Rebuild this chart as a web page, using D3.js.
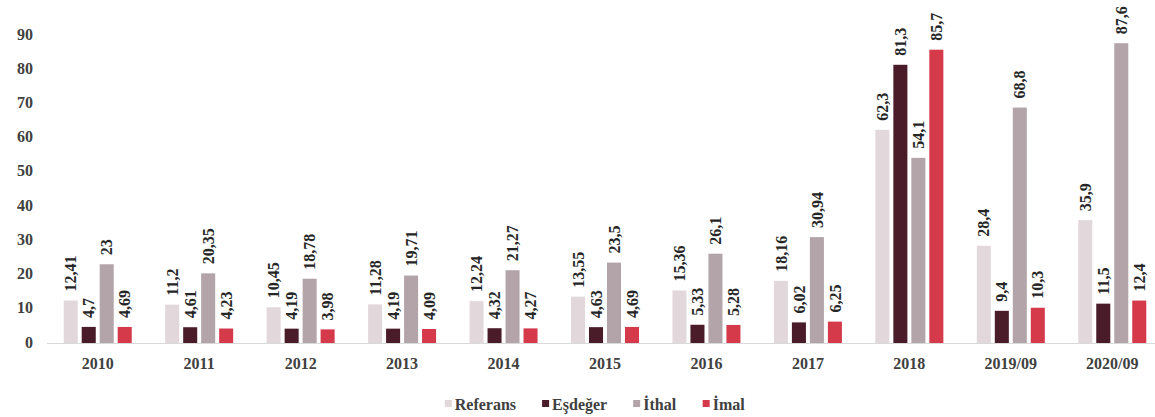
<!DOCTYPE html>
<html>
<head>
<meta charset="utf-8">
<script src="https://cdn.jsdelivr.net/npm/d3@7"></script>
<style>
  html, body { margin: 0; padding: 0; background: #ffffff; }
  svg { display: block; }
  svg text { font-family: "Liberation Serif", "DejaVu Serif", serif !important; font-weight: bold; }
</style>
</head>
<body>
<svg id="chart" width="1155" height="417"></svg>
<script>
// Periods on the x axis
const categories = ["2010", "2011", "2012", "2013", "2014", "2015", "2016", "2017", "2018", "2019/09", "2020/09"];

// Series names (legend order)
const seriesNames = ["Referans", "Eşdeğer", "İthal", "İmal"];

// Series values per period
const referans = [12.41, 11.2, 10.45, 11.28, 12.24, 13.55, 15.36, 18.16, 62.3, 28.4, 35.9];
const esdeger  = [4.7, 4.61, 4.19, 4.19, 4.32, 4.63, 5.33, 6.02, 81.3, 9.4, 11.5];
const ithal    = [23, 20.35, 18.78, 19.71, 21.27, 23.5, 26.1, 30.94, 54.1, 68.8, 87.6];
const imal     = [4.69, 4.23, 3.98, 4.09, 4.27, 4.69, 5.28, 6.25, 85.7, 10.3, 12.4];

// Y axis ticks
const yTicks = [0, 10, 20, 30, 40, 50, 60, 70, 80, 90];

const seriesValues = [referans, esdeger, ithal, imal];
const colors = ["#e2d8db", "#4a1c29", "#b3a4aa", "#d53a4b"];

const svg = d3.select("#chart");

const x0 = d3.scaleBand().domain(categories).range([47, 1163]).paddingInner(0).paddingOuter(0);
const x1 = d3.scaleBand().domain(seriesNames).range([-34, 34]).paddingInner(0.22);
const y = d3.scaleLinear().domain([0, 90]).range([343, 35]);

const rows = categories.map((c, i) => ({
  cat: c,
  vals: seriesNames.map((s, k) => ({ name: s, k: k, v: seriesValues[k][i] }))
}));

// Baseline
svg.append("line")
  .attr("x1", 47).attr("x2", 1155)
  .attr("y1", y(0) + 0.5).attr("y2", y(0) + 0.5)
  .attr("stroke", "#d9d9d9").attr("stroke-width", 1);

// Y axis labels (no domain line or tick marks)
const yAxis = d3.axisLeft(y).tickValues(yTicks).tickSize(0).tickPadding(0);
const gy = svg.append("g").attr("transform", "translate(33,0)").call(yAxis);
gy.select(".domain").remove();
gy.selectAll("text")
  .attr("font-size", 16)
  .attr("fill", "#404040")
  .attr("dy", "0.25em");

// X axis labels
const xAxis = d3.axisBottom(x0).tickSize(0).tickPadding(0);
const gx = svg.append("g").attr("transform", "translate(0,358)").call(xAxis);
gx.select(".domain").remove();
gx.selectAll("text")
  .attr("font-size", 16)
  .attr("fill", "#404040")
  .attr("dy", "0.71em");

const groups = svg.append("g").selectAll("g")
  .data(rows).join("g")
  .attr("transform", d => `translate(${x0(d.cat) + x0.bandwidth() / 2},0)`);

// Bars
groups.selectAll("rect")
  .data(d => d.vals).join("rect")
  .attr("x", d => x1(d.name))
  .attr("width", x1.bandwidth())
  .attr("y", d => y(d.v))
  .attr("height", d => y(0) - y(d.v))
  .attr("fill", d => colors[d.k]);

// Value labels, rotated, above each bar
const fmt = v => String(v).replace(".", ",");
groups.selectAll("text.val")
  .data(d => d.vals).join("text")
  .attr("class", "val")
  .attr("transform", d => `translate(${x1(d.name) + x1.bandwidth() / 2},${y(d.v) - 9}) rotate(-90)`)
  .attr("text-anchor", "start")
  .attr("dy", "0.35em")
  .attr("font-size", 16)
  .attr("fill", "#262626")
  .text(d => fmt(d.v));

// Legend
const legend = svg.append("g").attr("transform", "translate(0,404)");
const items = legend.selectAll("g").data(seriesNames).join("g");
items.append("rect")
  .attr("width", 7).attr("height", 7)
  .attr("y", -4)
  .attr("fill", (d, i) => colors[i]);
items.append("text")
  .attr("x", 10)
  .attr("dy", "0.35em")
  .attr("font-size", 16)
  .attr("fill", "#404040")
  .text(d => d);

let widths = [];
items.each(function () { widths.push(this.getBBox().width); });
const gap = 26;
const total = d3.sum(widths) + gap * (widths.length - 1);
let cx = 595 - total / 2;
items.attr("transform", (d, i) => {
  const t = `translate(${cx},0)`;
  cx += widths[i] + gap;
  return t;
});
</script>
</body>
</html>
